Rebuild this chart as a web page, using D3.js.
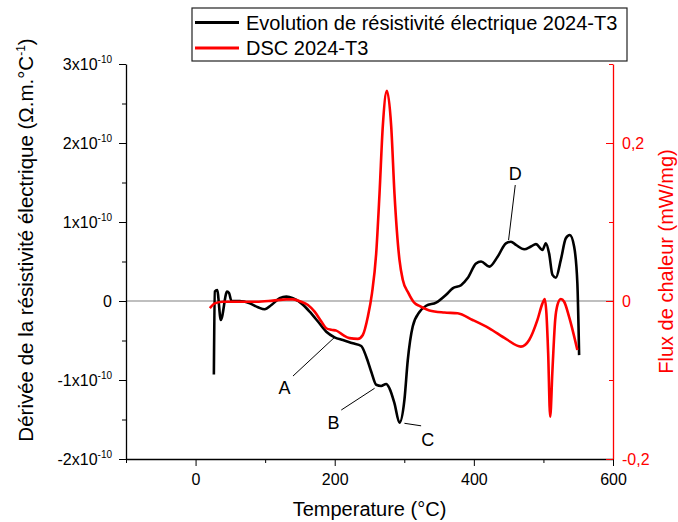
<!DOCTYPE html>
<html><head><meta charset="utf-8">
<title>Dérivée résistivité / DSC 2024-T3</title>
<script src="https://d3js.org/d3.v7.min.js"></script>
<style>
  body { margin: 0; background: #fff; }
  svg { font-family: "Liberation Sans", Arial, sans-serif; }
</style>
</head>
<body>
<svg id="chart" width="678" height="522"></svg>
<script>
// Evolution de résistivité : température (°C) et dérivée (en unités de 1e-10 Ω.m.°C-1)
const rhoTemp = [26.3, 27.7, 31.0, 36.3, 45.3, 48.2, 51.6, 63.5, 77.9, 89.8, 99.4, 109.0, 120.9, 130.5, 140.0,
  152.1, 164.0, 175.9, 187.9, 199.8, 211.7, 226.1, 238.1, 245.3, 252.5, 259.6, 266.8, 274.0, 278.7, 285.9,
  293.1, 300.2, 305.0, 312.2, 321.8, 331.4, 345.7, 360.1, 369.5, 381.6, 391.1, 403.1, 410.3, 422.2, 434.1,
  446.1, 453.3, 460.5, 472.4, 482.0, 489.2, 498.6, 503.5, 508.2, 513.0, 517.9, 525.0, 532.2, 537.9, 544.1,
  548.8, 551.3];
const rhoDeriv = [-0.93, 0.12, 0.14, -0.24, 0.12, 0.10, 0.00, 0.00, -0.03, -0.08, -0.105, -0.05, 0.035, 0.055, 0.035,
  -0.03, -0.135, -0.26, -0.39, -0.46, -0.495, -0.535, -0.57, -0.705, -0.895, -1.06, -1.075, -1.05, -1.105, -1.295,
  -1.54, -1.25, -0.75, -0.32, -0.14, -0.06, -0.02, 0.08, 0.16, 0.20, 0.29, 0.475, 0.50, 0.435, 0.56,
  0.73, 0.75, 0.71, 0.655, 0.69, 0.72, 0.645, 0.73, 0.60, 0.33, 0.295, 0.52, 0.795, 0.835, 0.69,
  0.22, -0.685];

// DSC : température (°C) et flux de chaleur (mW/mg)
const dscTemp = [20.5, 27.7, 39.6, 63.5, 87.5, 111.3, 130.5, 140.0, 152.1, 161.5, 171.1, 180.8, 187.9, 195.1, 202.3,
  211.7, 221.3, 233.2, 240.4, 247.6, 253.6, 259.6, 264.4, 269.1, 275.0, 281.2, 285.9, 293.1, 297.8, 306.0,
  314.6, 321.8, 336.1, 357.6, 376.7, 398.2, 422.2, 446.1, 467.6, 479.5, 491.4, 498.6, 502.0, 504.3, 506.8,
  509.7, 513.0, 516.9, 520.2, 525.0, 529.8, 536.9, 548.8];
const dscFlux = [-0.009, -0.003, -0.001, -0.001, -0.001, 0.0005, 0.002, 0.002, -0.001, -0.005, -0.0135, -0.026, -0.0345, -0.0365, -0.0375,
  -0.043, -0.047, -0.048, -0.043, -0.020, 0.010, 0.060, 0.136, 0.221, 0.266, 0.221, 0.136, 0.052, 0.027, 0.010,
  -0.0025, -0.0063, -0.012, -0.0146, -0.0156, -0.024, -0.0346, -0.048, -0.0578, -0.0494, -0.024, -0.003, 0.0025, -0.0156, -0.066,
  -0.1465, -0.087, -0.024, -0.005, 0.0025, -0.001, -0.020, -0.062];

// ticks
const xTicks = [0, 200, 400, 600];
const xMinor = [-100, 100, 300, 500];
const leftTicks = [-2, -1, 0, 1, 2, 3];
const leftMinor = [-1.5, -0.5, 0.5, 1.5, 2.5];
const rightTicks = [-0.2, 0, 0.2];
const rightMinor = [-0.1, 0.1, 0.3];

// annotations (points en coordonnées des données, axe de gauche)
const annLetter = ["A", "B", "C", "D"];
const annPointT = [199.8, 257.3, 300.2, 449.9];
const annPointV = [-0.46, -1.105, -1.548, 0.772];
const annTipT   = [140.0, 209.4, 324.2, 459.5];
const annTipV   = [-0.95, -1.38, -1.58, 1.468];
const annTextT  = [128.0, 198.4, 333.7, 459.5];
const annTextV  = [-1.10, -1.54, -1.75, 1.62];

const seriesNames = ["Evolution de résistivité électrique 2024-T3", "DSC 2024-T3"];
const seriesColors = ["#000", "#ff0000"];

const svg = d3.select("#chart");
const plotLeft = 126, plotRight = 613, plotTop = 64, plotBottom = 459;

const x = d3.scaleLinear().domain([-100, 600]).range([plotLeft, plotRight]);
const yL = d3.scaleLinear().domain([-2, 3]).range([plotBottom, plotTop]);
const yR = d3.scaleLinear().domain([-0.2, 0.3]).range([plotBottom, plotTop]);

// zero line
svg.append("line")
  .attr("x1", x(-100)).attr("x2", x(600))
  .attr("y1", yL(0)).attr("y2", yL(0))
  .attr("stroke", "#aaa").attr("stroke-width", 1.5);

// curves
const lineL = d3.line().x(d => x(d[0])).y(d => yL(d[1])).curve(d3.curveMonotoneX);
const lineR = d3.line().x(d => x(d[0])).y(d => yR(d[1])).curve(d3.curveMonotoneX);

svg.append("path").datum(d3.zip(rhoTemp, rhoDeriv))
  .attr("d", lineL).attr("fill", "none")
  .attr("stroke", seriesColors[0]).attr("stroke-width", 2.6).attr("stroke-linejoin", "round");

svg.append("path").datum(d3.zip(dscTemp, dscFlux))
  .attr("d", lineR).attr("fill", "none")
  .attr("stroke", seriesColors[1]).attr("stroke-width", 2.6).attr("stroke-linejoin", "round");

// bottom axis
let xAxis = svg.append("g").attr("transform", "translate(0," + plotBottom + ")")
  .call(d3.axisBottom(x).tickValues(xTicks).tickSizeInner(7).tickSizeOuter(0).tickPadding(8));
svg.append("g").attr("transform", "translate(0," + plotBottom + ")")
  .call(d3.axisBottom(x).tickValues(xMinor).tickSize(4).tickFormat(""))
  .select(".domain").remove();

// left axis
let yAxis = svg.append("g").attr("transform", "translate(" + plotLeft + ",0)")
  .call(d3.axisLeft(yL).tickValues(leftTicks).tickSizeInner(7).tickSizeOuter(0).tickPadding(7));
svg.append("g").attr("transform", "translate(" + plotLeft + ",0)")
  .call(d3.axisLeft(yL).tickValues(leftMinor).tickSize(4).tickFormat(""))
  .select(".domain").remove();

yAxis.selectAll(".tick text").each(function(d) {
  const t = d3.select(this);
  if (d === 0) { t.text("0"); return; }
  t.text(d + "x10");
  t.append("tspan").attr("dy", -7).attr("font-size", 10).text("-10");
});

// right axis (red, ticks inward)
let rAxis = svg.append("g").attr("class", "raxis").attr("transform", "translate(" + plotRight + ",0)")
  .call(d3.axisRight(yR).tickValues(rightTicks).tickSizeInner(-7).tickSizeOuter(0).tickPadding(9)
    .tickFormat(d => d === 0 ? "0" : String(d).replace(".", ",")));
svg.append("g").attr("class", "raxis").attr("transform", "translate(" + plotRight + ",0)")
  .call(d3.axisRight(yR).tickValues(rightMinor).tickSize(-4).tickFormat(""))
  .select(".domain").remove();

svg.selectAll("g.tick text").attr("font-size", 16);
svg.selectAll("g").attr("font-family", null).attr("font-size", null);
svg.selectAll(".domain").attr("stroke-width", 1.3);
svg.selectAll(".raxis .domain, .raxis line").attr("stroke", "red");
svg.selectAll(".raxis text").attr("fill", "red");

// axis titles
svg.append("text")
  .attr("x", (plotLeft + plotRight) / 2).attr("y", 516)
  .attr("text-anchor", "middle").attr("font-size", 20)
  .text("Temperature (°C)");

const yTitle = svg.append("text")
  .attr("transform", "translate(33,240) rotate(-90)")
  .attr("text-anchor", "middle").attr("font-size", 20.5);
yTitle.append("tspan").text("Dérivée de la résistivité électrique (Ω.m.°C");
yTitle.append("tspan").attr("dy", -8).attr("font-size", 12).text("-1");
yTitle.append("tspan").attr("dy", 8).text(")");

svg.append("text")
  .attr("transform", "translate(673," + (plotTop + plotBottom) / 2 + ") rotate(-90)")
  .attr("text-anchor", "middle").attr("font-size", 20).attr("fill", "red")
  .text("Flux de chaleur (mW/mg)");

// annotations
annLetter.forEach((l, i) => {
  svg.append("line")
    .attr("x1", x(annPointT[i])).attr("y1", yL(annPointV[i]))
    .attr("x2", x(annTipT[i])).attr("y2", yL(annTipV[i]))
    .attr("stroke", "#000").attr("stroke-width", 1);
  svg.append("text")
    .attr("x", x(annTextT[i])).attr("y", yL(annTextV[i]))
    .attr("dy", "0.36em").attr("text-anchor", "middle").attr("font-size", 18)
    .text(l);
});

// legend
const lg = svg.append("g");
lg.append("rect").attr("x", 192).attr("y", 8).attr("width", 435).attr("height", 53)
  .attr("fill", "#fff").attr("stroke", "#222").attr("stroke-width", 1.2);
seriesNames.forEach((n, i) => {
  const yy = 22.5 + i * 25.5;
  lg.append("line").attr("x1", 195).attr("x2", 239).attr("y1", yy).attr("y2", yy)
    .attr("stroke", seriesColors[i]).attr("stroke-width", 3);
  lg.append("text").attr("x", 246).attr("y", yy + 7).attr("font-size", 20).text(n);
});
</script>
</body></html>
